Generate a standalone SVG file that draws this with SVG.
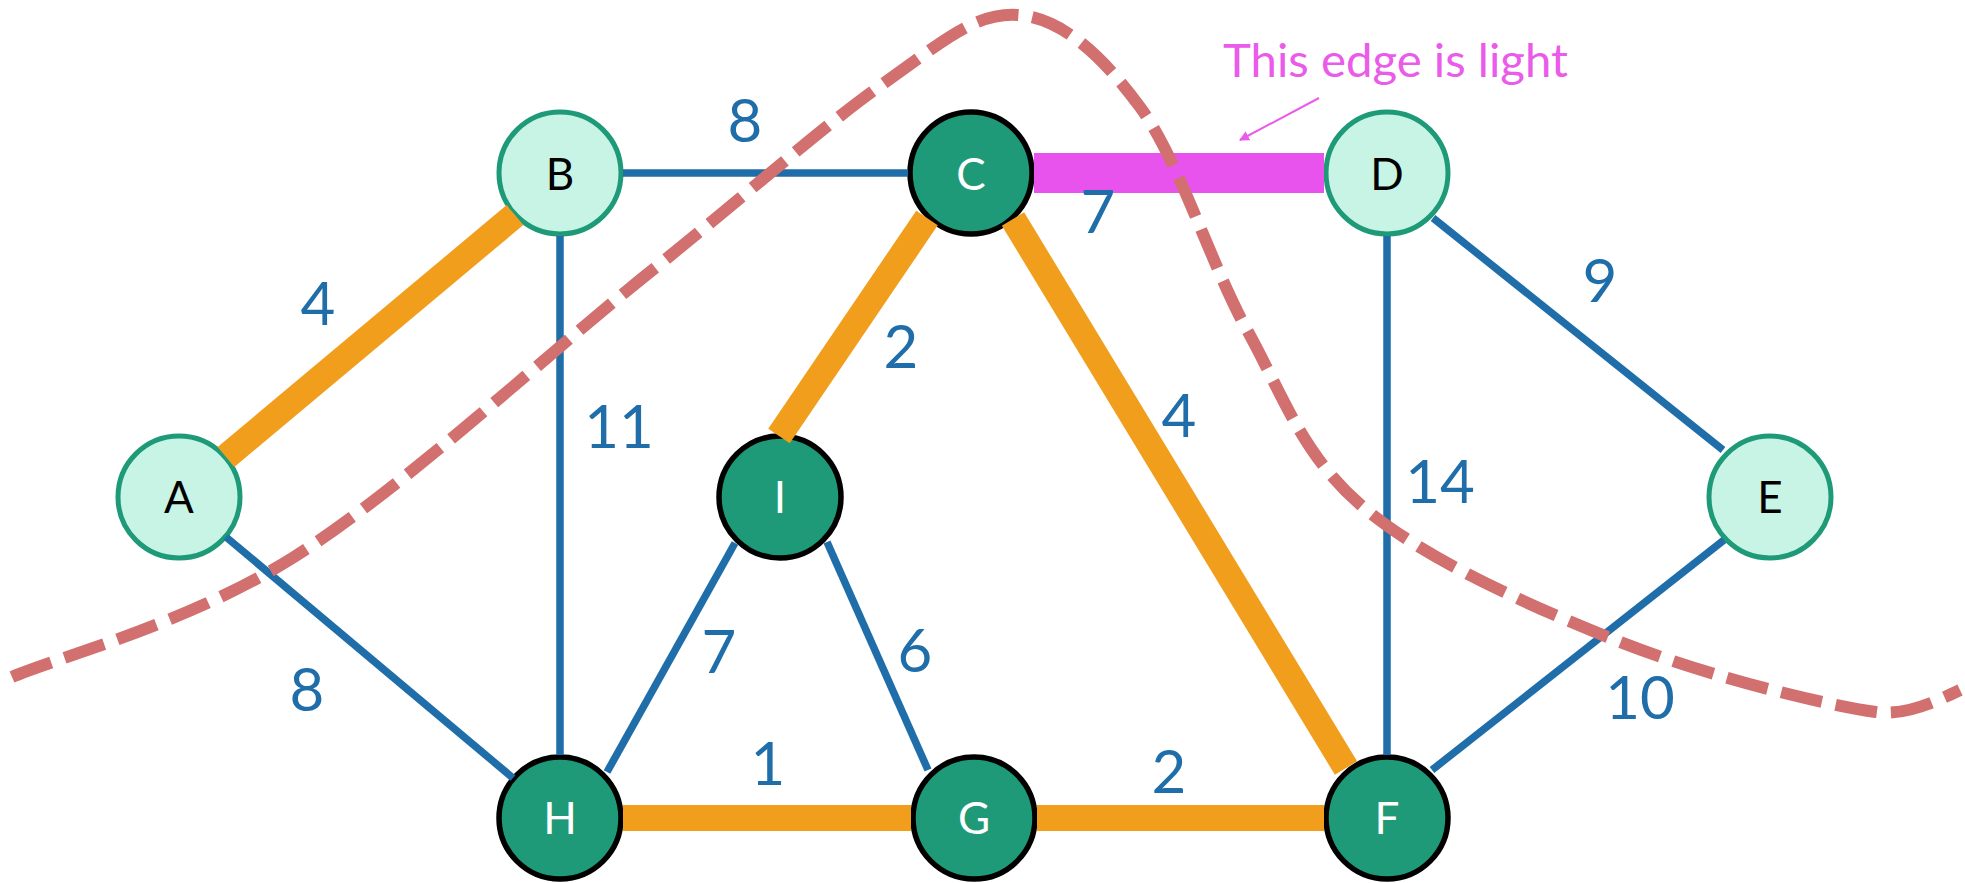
<svg xmlns="http://www.w3.org/2000/svg" width="1965" height="883" viewBox="0 0 1965 883">
<style>
.light circle{fill:#C8F4E6;stroke:#1E9A78;stroke-width:5}
.dark circle{fill:#1E9A78;stroke:#000;stroke-width:5.5}
.light text{fill:#000}
.dark text{fill:#fff}
.node text{font-family:Lato,"Liberation Sans",sans-serif;font-size:44px;text-anchor:middle}
.blue{stroke:#1F6EAA;stroke-width:7.5;fill:none}
.orange{stroke:#F19E1C;stroke-width:26;fill:none}
.lbl{font-family:Lato,"Liberation Sans",sans-serif;font-size:60px;fill:#1F6EAA;text-anchor:middle}
</style>
<defs>
<marker id="arr" viewBox="0 0 10 10" refX="9" refY="5" markerWidth="10" markerHeight="10" markerUnits="userSpaceOnUse" orient="auto">
<path d="M0,0 L10,5 L0,10 z" fill="#EA5BEA"/>
</marker>
</defs>
<rect width="1965" height="883" fill="#fff"/>

<g id="nodes">
<g id="node-A" class="node light"><circle cx="179" cy="497" r="61"/><text x="179" y="513">A</text></g>
<g id="node-B" class="node light"><circle cx="560" cy="173" r="61"/><text x="560" y="190">B</text></g>
<g id="node-C" class="node dark"><circle cx="971" cy="173" r="61"/><text x="971" y="190">C</text></g>
<g id="node-D" class="node light"><circle cx="1387" cy="173" r="61"/><text x="1387" y="190">D</text></g>
<g id="node-E" class="node light"><circle cx="1770" cy="497" r="61"/><text x="1770" y="513">E</text></g>
<g id="node-I" class="node dark"><circle cx="780" cy="497" r="61"/><text x="780" y="513">I</text></g>
<g id="node-H" class="node dark"><circle cx="560" cy="818" r="61"/><text x="560" y="834">H</text></g>
<g id="node-G" class="node dark"><circle cx="974" cy="818" r="61"/><text x="974" y="834">G</text></g>
<g id="node-F" class="node dark"><circle cx="1387" cy="818" r="61"/><text x="1387" y="834">F</text></g>
</g>

<g id="connectors">
<line class="orange" x1="226" y1="457" x2="515" y2="215"/>
<line class="blue" x1="226" y1="537" x2="513" y2="778"/>
<line class="blue" x1="623" y1="173" x2="908" y2="173"/>
<line class="blue" x1="560" y1="236" x2="560" y2="755"/>
<line stroke="#E853EE" stroke-width="40" x1="1034" y1="173" x2="1324" y2="173"/>
<line class="orange" x1="927" y1="218" x2="779" y2="436"/>
<line class="orange" x1="1013" y1="219" x2="1346" y2="768"/>
<line class="blue" x1="1433" y1="218" x2="1723" y2="450"/>
<line class="blue" x1="1387" y1="236" x2="1387" y2="755"/>
<line class="blue" x1="1724" y1="540" x2="1432" y2="770"/>
<line class="blue" x1="735" y1="543" x2="607" y2="772"/>
<line class="blue" x1="827" y1="542" x2="928" y2="770"/>
<line class="orange" x1="623" y1="818" x2="911" y2="818"/>
<line class="orange" x1="1037" y1="818" x2="1324" y2="818"/>
<line stroke="#EA5BEA" stroke-width="2" x1="1319" y1="98" x2="1240" y2="140" marker-end="url(#arr)"/>
<path d="M12,677 C59,657 189,623 294,557 C399,491 542,359 640,280 C738,202 818,130 880,86 C942,42 975,12 1018,15 C1061,18 1101,54 1140,107 C1179,160 1210,263 1247,330 C1284,397 1302,455 1363,507 C1424,559 1530,606 1615,640 C1700,674 1819,704 1876,712 C1905,716 1935,702 1960,690" fill="none" stroke="#D1706E" stroke-width="12" stroke-dasharray="42 14"/>
</g>

<g id="labels">
<text class="lbl" x="745" y="142">8</text>
<text class="lbl" x="318" y="325">4</text>
<text class="lbl" x="619" y="448">11</text>
<text class="lbl" x="901" y="368">2</text>
<text class="lbl" x="1098" y="233">7</text>
<text class="lbl" x="1179" y="437">4</text>
<text class="lbl" x="1600" y="302">9</text>
<text class="lbl" x="1440" y="503">14</text>
<text class="lbl" x="1640" y="719">10</text>
<text class="lbl" x="307" y="711">8</text>
<text class="lbl" x="719" y="673">7</text>
<text class="lbl" x="915" y="672">6</text>
<text class="lbl" x="768" y="785">1</text>
<text class="lbl" x="1169" y="793">2</text>
<text x="1223" y="77" font-family="Lato,'Liberation Sans',sans-serif" font-size="47" fill="#EA5BEA" textLength="345" lengthAdjust="spacingAndGlyphs">This edge is light</text>
</g>
</svg>
